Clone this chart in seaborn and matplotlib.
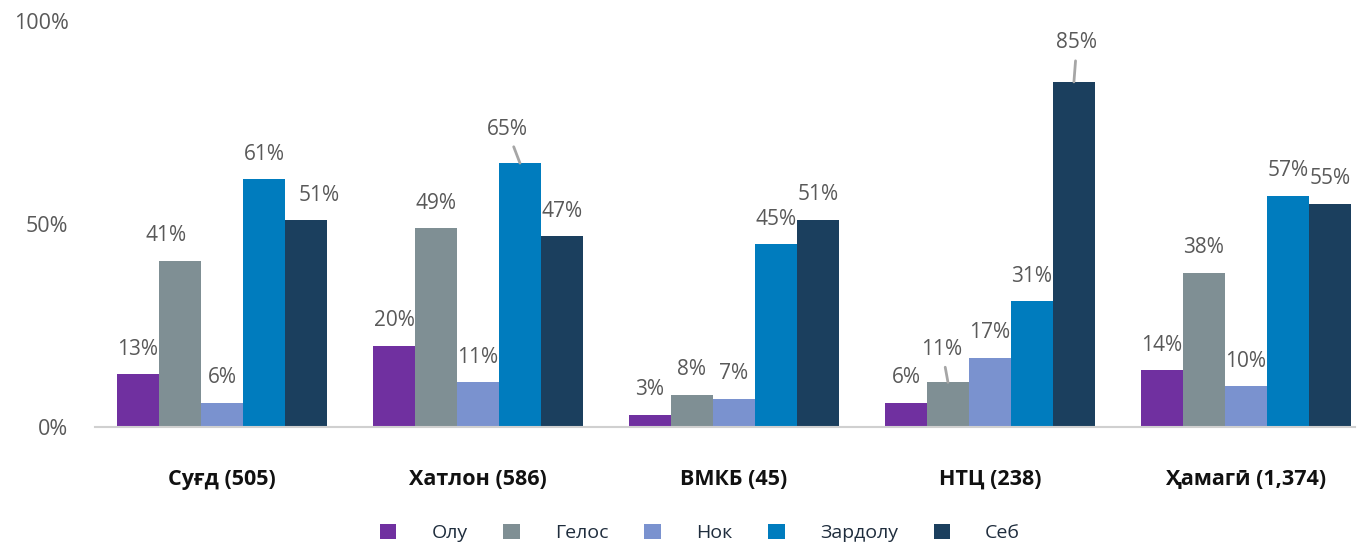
import matplotlib
matplotlib.use("Agg")
import matplotlib.pyplot as plt
import seaborn as sns
import pandas as pd

regions = ["Суғд (505)", "Хатлон (586)", "ВМКБ (45)", "НТЦ (238)", "Ҳамагӣ (1,374)"]
series = ["Олу", "Гелос", "Нок", "Зардолу", "Себ"]
olu = [13, 20, 3, 6, 14]
gelos = [41, 49, 8, 11, 38]
nok = [6, 11, 7, 17, 10]
zardolu = [61, 65, 45, 31, 57]
seb = [51, 47, 51, 85, 55]
colors = ["#7030A0", "#7F8F94", "#7A92CF", "#007CBE", "#1B3F5E"]

values = [olu, gelos, nok, zardolu, seb]
rows = []
for s, vals in zip(series, values):
    for r, v in zip(regions, vals):
        rows.append({"region": r, "series": s, "value": v})
df = pd.DataFrame(rows)

sns.set_theme(style="white")
plt.rcParams["font.family"] = ["Open Sans", "DejaVu Sans"]

fig = plt.figure(figsize=(13.69, 5.46), dpi=100)
ax = fig.add_axes([95 / 1369, 1 - 427 / 546, (1355 - 95) / 1369, (427 - 21) / 546])

sns.barplot(data=df, x="region", y="value", hue="series", hue_order=series,
            order=regions, palette=colors, width=0.82, saturation=1,
            linewidth=0, errorbar=None, ax=ax)

ax.set_ylim(0, 100)
ax.set_xlim(-0.496, 4.426)
ax.set_yticks([0, 50, 100])
ax.set_yticklabels(["0%", "50%", "100%"], color="#595959", fontsize=15.5)
ax.tick_params(axis="y", length=0, pad=19)
ax.tick_params(axis="x", length=0, pad=30)
for lbl in ax.get_xticklabels():
    lbl.set_fontweight("bold")
    lbl.set_fontsize(15.5)
    lbl.set_color("#111111")
ax.set_xlabel("")
ax.set_ylabel("")
for sp in ["top", "right", "left"]:
    ax.spines[sp].set_visible(False)
ax.spines["bottom"].set_color("#D0D0D0")
ax.spines["bottom"].set_linewidth(1.5)

px = 72 / 100
# label offsets in px (dx, dy) for shifted labels; leaders marked True
special = {
    (1, 0): (-14, 25, False),
    (4, 0): (13, 24, False),
    (3, 1): (-13, 34, True),
    (4, 3): (3, 39, True),
    (1, 3): (-6, 33, True),
}
for si, cont in enumerate(ax.containers):
    for ri, bar in enumerate(cont):
        h = bar.get_height()
        xc = bar.get_x() + bar.get_width() / 2
        label = f"{int(round(h))}%"
        dx, dy, lead = special.get((si, ri), (0, 25, False))
        kw = dict(textcoords="offset points", ha="center", va="center",
                  fontsize=15, color="#595959")
        if lead:
            kw["arrowprops"] = dict(arrowstyle="-", color="#A6A6A6", lw=2,
                                    shrinkA=3, shrinkB=0)
        ax.annotate(label, xy=(xc, h), xytext=(dx * px, dy * px), **kw)

leg = ax.legend(loc="center", bbox_to_anchor=(700 / 1369, 1 - 533 / 546),
                bbox_transform=fig.transFigure, ncol=5, frameon=False,
                handlelength=0.85, handleheight=0.85, handletextpad=1.8,
                columnspacing=1.85, fontsize=14)
for t in leg.get_texts():
    t.set_color("#1F2D3D")

fig.savefig("out.png", dpi=100)
